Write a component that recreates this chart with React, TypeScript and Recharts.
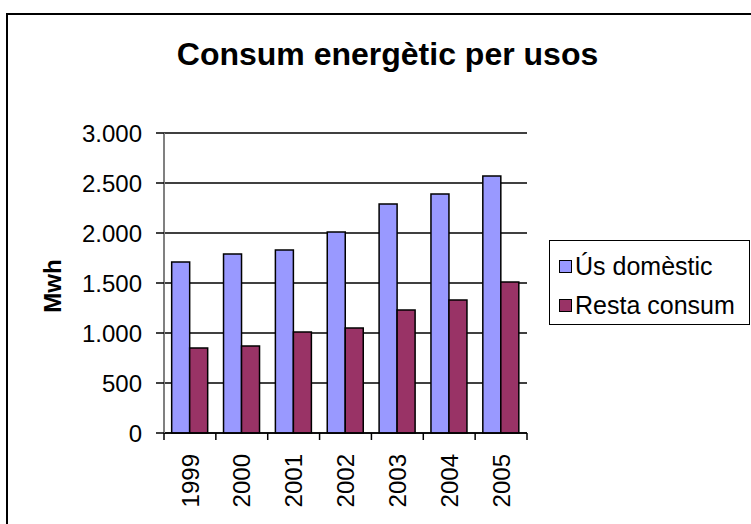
import React from 'react';
import { BarChart, Bar, XAxis, YAxis, CartesianGrid, Legend } from 'recharts';

// Consum energètic per usos (Mwh)
const years = ['1999', '2000', '2001', '2002', '2003', '2004', '2005'];
const usDomestic = [1710, 1790, 1830, 2010, 2290, 2390, 2570];
const restaConsum = [850, 870, 1010, 1050, 1230, 1330, 1510];
const yTicks = [0, 500, 1000, 1500, 2000, 2500, 3000];
const seriesNames = ['Ús domèstic', 'Resta consum'];

const data = years.map((year, i) => ({
  year,
  domestic: usDomestic[i],
  resta: restaConsum[i],
}));

const FONT = '"Liberation Sans", Arial, sans-serif';

const fmtThousands = (v: number) =>
  v >= 1000 ? `${Math.floor(v / 1000)}.${String(v % 1000).padStart(3, '0')}` : String(v);

function YearTick(props: any) {
  const { x, y, payload, index, visibleTicksCount, width } = props;
  const band = width > 100 && visibleTicksCount ? width / visibleTicksCount : 51.9;
  const left = x - band / 2;
  const ty = y + 21;
  return (
    <g>
      <line x1={left} y1={y} x2={left} y2={y + 7} stroke="#000" strokeWidth={1.5} />
      {index === visibleTicksCount - 1 && (
        <line x1={left + band} y1={y} x2={left + band} y2={y + 7} stroke="#000" strokeWidth={1.5} />
      )}
      <text
        x={x}
        y={ty}
        transform={`rotate(-90, ${x}, ${ty})`}
        textAnchor="end"
        dy="0.36em"
        fontSize={24}
        fontFamily={FONT}
        fill="#000"
      >
        {payload.value}
      </text>
    </g>
  );
}

function MwhLabel(props: any) {
  const vb = props.viewBox || { x: 0, y: 133, height: 300 };
  const x = vb.x + 61;
  const y = vb.y + vb.height / 2 + 3;
  return (
    <text
      x={x}
      y={y}
      transform={`rotate(-90, ${x}, ${y})`}
      textAnchor="middle"
      fontSize={24}
      fontWeight="bold"
      fontFamily={FONT}
      fill="#000"
    >
      Mwh
    </text>
  );
}

function LegendBox(props: any) {
  const items = [...(props.payload || [])].sort(
    (a: any, b: any) => seriesNames.indexOf(a.value) - seriesNames.indexOf(b.value)
  );
  return (
    <div
      style={{
        boxSizing: 'border-box',
        width: 201,
        height: 85,
        border: '1.5px solid #000',
        padding: '6px 0 0 9px',
        fontFamily: FONT,
        fontSize: 25,
        background: '#fff',
      }}
    >
      {items.map((it: any) => (
        <div key={it.value} style={{ display: 'flex', alignItems: 'center', height: 39 }}>
          <span
            style={{
              display: 'inline-block',
              boxSizing: 'border-box',
              width: 13,
              height: 13,
              background: it.color,
              border: '1px solid #000',
              marginRight: 3,
            }}
          />
          <span style={{ whiteSpace: 'nowrap', color: '#000' }}>{it.value}</span>
        </div>
      ))}
    </div>
  );
}

export default function App() {
  return (
    <div
      style={{
        position: 'fixed',
        left: 0,
        top: 0,
        width: 751,
        height: 524,
        overflow: 'hidden',
        background: '#fff',
      }}
    >
      <div
        style={{
          position: 'absolute',
          left: 6,
          top: 13,
          width: 780,
          height: 560,
          border: '2px solid #000',
          boxSizing: 'border-box',
        }}
      />
      <div
        style={{
          position: 'absolute',
          left: 0,
          top: 38,
          width: 775,
          textAlign: 'center',
          fontFamily: FONT,
          fontWeight: 'bold',
          fontSize: 32,
          lineHeight: '32px',
          color: '#000',
        }}
      >
        Consum energètic per usos
      </div>
      <BarChart
        width={751}
        height={524}
        data={data}
        margin={{ top: 133, right: 224, bottom: 0, left: 0 }}
        barCategoryGap="14.8%"
        barGap={0}
      >
        <CartesianGrid vertical={false} stroke="#000" strokeWidth={1.4} />
        <XAxis
          dataKey="year"
          height={91}
          interval={0}
          tickLine={false}
          tickSize={0}
          tickMargin={0}
          axisLine={{ stroke: '#000', strokeWidth: 1.5 }}
          tick={<YearTick />}
        />
        <YAxis
          width={164}
          domain={[0, 3000]}
          ticks={yTicks}
          interval={0}
          tickFormatter={fmtThousands}
          tickSize={8}
          tickMargin={14}
          axisLine={{ stroke: '#808080', strokeWidth: 2 }}
          tickLine={{ stroke: '#000', strokeWidth: 1.5 }}
          tick={{ fill: '#000', fontSize: 24, fontFamily: FONT }}
          label={<MwhLabel />}
        />
        <Legend
          layout="vertical"
          align="center"
          verticalAlign="middle"
          wrapperStyle={{ left: 549, top: 240, width: 201, height: 85 }}
          content={<LegendBox />}
        />
        <Bar
          dataKey="domestic"
          name={seriesNames[0]}
          fill="#9999FF"
          stroke="#000"
          strokeWidth={1.5}
          isAnimationActive={false}
        />
        <Bar
          dataKey="resta"
          name={seriesNames[1]}
          fill="#993366"
          stroke="#000"
          strokeWidth={1.5}
          isAnimationActive={false}
        />
      </BarChart>
    </div>
  );
}
